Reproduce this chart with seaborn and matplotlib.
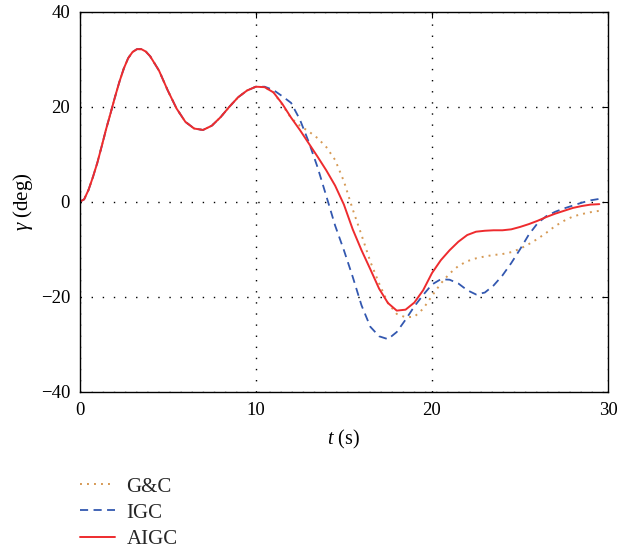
import numpy as np
import pandas as pd
import matplotlib
matplotlib.use("Agg")
import matplotlib.pyplot as plt
import seaborn as sns

# ---------------- data ----------------
# shared part of all three responses
t_common = [0, 0.25, 0.5, 0.75, 1, 1.25, 1.5, 1.75, 2, 2.25, 2.5, 2.75, 3, 3.25,
            3.5, 3.75, 4, 4.5, 5, 5.5, 6, 6.5, 7, 7.5, 8, 8.5, 9, 9.5, 10]
y_common = [0, 0.5, 2.5, 5.2, 8.2, 11.7, 15.3, 18.6, 22.0, 25.2, 28.0, 30.2, 31.5, 32.1,
            32.1, 31.6, 30.6, 27.6, 23.4, 19.6, 16.8, 15.4, 15.1, 16.0, 17.8, 20.0, 22.0, 23.4, 24.2]

t_tail = [10.5, 11, 11.5, 12, 12.5, 13, 13.5, 14, 14.5, 15, 15.5, 16, 16.5, 17, 17.5,
          18, 18.5, 19, 19.5, 20, 20.5, 21, 21.5, 22, 22.5, 23, 23.5, 24, 24.5, 25,
          25.5, 26, 26.5, 27, 27.5, 28, 28.5, 29, 29.5]

y_gc = [24.1, 23.0, 20.4, 17.6, 16.0, 14.8, 13.4, 11.5, 8.8, 4.3, -1.6, -7.0, -12.6, -17.2, -21.3,
        -23.6, -24.3, -24.2, -22.5, -19.8, -17.2, -15.1, -13.5, -12.5, -11.9, -11.5, -11.2, -11.0, -10.6, -9.9,
        -8.9, -7.8, -6.5, -5.1, -4.0, -3.1, -2.6, -2.2, -1.9]

y_igc = [24.2, 23.5, 22.2, 20.8, 17.3, 12.6, 7.3, 1.2, -5.0, -10.2, -15.8, -21.8, -26.3, -28.3, -28.9,
         -27.4, -24.8, -22.0, -19.6, -17.4, -16.3, -16.4, -17.2, -18.6, -19.5, -19.1, -17.6, -15.5, -12.9, -10.0,
         -6.9, -4.5, -3.0, -2.1, -1.4, -0.8, -0.2, 0.3, 0.6]

y_aigc = [24.1, 23.0, 20.6, 17.7, 15.1, 12.3, 9.5, 6.6, 3.4, -0.6, -5.8, -10.2, -14.2, -18.3, -21.3,
          -22.9, -22.7, -21.2, -18.6, -15.0, -12.3, -10.2, -8.4, -7.0, -6.3, -6.1, -6.0, -6.0, -5.8, -5.3,
          -4.7, -4.0, -3.2, -2.5, -1.9, -1.3, -0.9, -0.6, -0.5]

series_names = ["G&C", "IGC", "AIGC"]
x_ticks = [0, 10, 20, 30]
y_ticks = [-40, -20, 0, 20, 40]

# ---------------- style ----------------
sns.set_theme(style="white")
plt.rcParams["font.family"] = ["Liberation Serif", "DejaVu Serif"]
plt.rcParams["mathtext.fontset"] = "custom"
plt.rcParams["mathtext.rm"] = "Liberation Serif"
plt.rcParams["mathtext.it"] = "Liberation Serif:italic"

fig = plt.figure(figsize=(6.18, 5.52), dpi=100)
ax = fig.add_axes([0.129, 0.290, 0.855, 0.689])

t_full = t_common + t_tail
frames = []
for name, tail in zip(series_names, [y_gc, y_igc, y_aigc]):
    frames.append(pd.DataFrame({"t": t_full, "y": y_common + tail, "method": name}))
df = pd.concat(frames, ignore_index=True)

styles = {
    "G&C": dict(color="#D69A55", linestyle=(0, (1, 2.6)), linewidth=1.4),
    "IGC": dict(color="#3358B0", linestyle=(0, (4.5, 3)), linewidth=1.3),
    "AIGC": dict(color="#EE2B2E", linestyle="-", linewidth=1.4),
}
for name in series_names:
    sub = df[df["method"] == name]
    sns.lineplot(data=sub, x="t", y="y", ax=ax, label=name, **styles[name])

ax.set_xlim(0, 30)
ax.set_ylim(-40, 40)
ax.set_xticks(x_ticks)
ax.set_yticks(y_ticks)
ax.set_yticklabels(["\u2212" + str(-v) if v < 0 else str(v) for v in y_ticks])
ax.grid(True, color="black", linestyle=(0, (1, 7)), linewidth=1.0)
ax.tick_params(direction="in", length=4.5, width=0.8, top=True, right=True,
               labelsize=13.5, pad=7, colors="black")
for s in ax.spines.values():
    s.set_visible(True)
    s.set_color("black")
    s.set_linewidth(1.0)

ax.set_xlabel("$t$ (s)", fontsize=14.5, labelpad=7, color="black")
ax.set_ylabel("$\\gamma$ (deg)", fontsize=15, labelpad=4, color="black")

handles, labels = ax.get_legend_handles_labels()
ax.get_legend().remove()
fig.legend(handles, labels, loc="upper left", bbox_to_anchor=(0.129, 0.136),
           frameon=False, fontsize=15, handlelength=1.7, handletextpad=0.55,
           labelspacing=0.32, borderpad=0, borderaxespad=0)

fig.savefig("out.png", dpi=100)
